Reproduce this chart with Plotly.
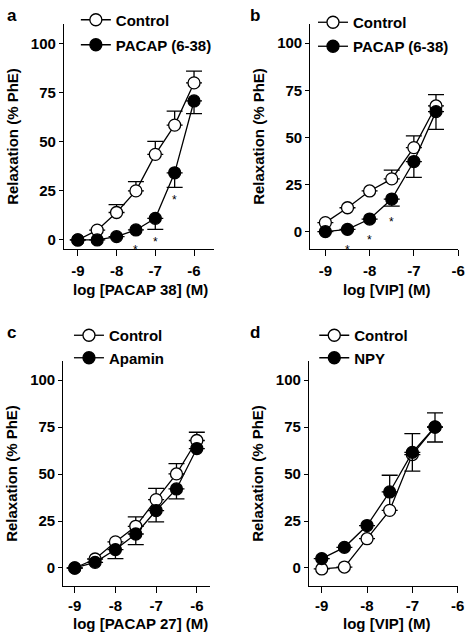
import plotly.graph_objects as go

# ---------------- data ----------------
conc_a = [-9, -8.5, -8, -7.5, -7, -6.5, -6]
ctrl_a = [0, 5, 14, 25, 43.6, 58.5, 80]
ctrl_a_err = [0, 0, 4, 4.7, 6.6, 7.1, 6]
pacap_a = [0, 0, 1.7, 5.1, 11, 34.2, 70.8]
pacap_a_err = [0, 0, 0, 0, 5.6, 7.4, 6.4]
star_a_x = [-7.5, -7, -6.5]
star_a_y = [-3.7, 0.3, 22]

conc_b = [-9, -8.5, -8, -7.5, -7, -6.5]
ctrl_b = [4.8, 12.7, 21.6, 28, 44.6, 66.7]
ctrl_b_err = [0, 0, 0, 4.7, 6.2, 6]
pacap_b = [0, 1.2, 6.7, 17.3, 37.2, 63.7]
pacap_b_err = [0, 0, 0, 3.7, 8.4, 9.4]
star_b_x = [-8.5, -8, -7.5]
star_b_y = [-8, -3, 6.7]

conc_c = [-9, -8.5, -8, -7.5, -7, -6.5, -6]
ctrl_c = [0, 4.8, 13.9, 22.2, 36.4, 50.1, 67.9]
ctrl_c_err = [0, 0, 0, 5, 6, 5.5, 4.4]
apamin_c = [0, 3, 9.8, 18.1, 30.6, 42.1, 63.6]
apamin_c_err = [0, 0, 4.8, 5.7, 6, 5.3, 0]

conc_d = [-9, -8.5, -8, -7.5, -7, -6.5]
ctrl_d = [-0.5, 0.5, 15.6, 30.7, 60.4, 75]
ctrl_d_err = [0, 0, 0, 18.7, 11.2, 7.6]
npy_d = [5, 11, 22.6, 40.5, 61.6, 75.1]
npy_d_err = [0, 0, 0, 0, 10, 8]

y_ticks = [0, 25, 50, 75, 100]
x_ticks = [-9, -8, -7, -6]

panel_labels = ["a", "b", "c", "d"]
x_titles = ["log [PACAP 38] (M)", "log [VIP] (M)", "log [PACAP 27] (M)", "log [VIP] (M)"]
y_title = "Relaxation (% PhE)"

# ---------------- styling ----------------
W, H = 472, 636
FONT = "Liberation Sans, Arial, Helvetica, sans-serif"
LW = 1.3
MS = 12

def px_x(p):
    return p / W

def px_y(p):
    return 1 - p / H

panels = [
    dict(xs="x", ys="y", dx=[65, 217], dy=[24, 249], xr=[-9.356, -5.49], yr=[-4.6, 110],
         data=(conc_a, ctrl_a, ctrl_a_err, pacap_a, pacap_a_err), names=("Control", "PACAP (6-38)"),
         leg=(77, 3.5), gap=2.5, stars=(star_a_x, star_a_y), xt=(143, 289), tls=2),
    dict(xs="x2", ys="y2", dx=[315, 465], dy=[24, 249], xr=[-9.34, -6.0], yr=[-9.2, 110.2],
         data=(conc_b, ctrl_b, ctrl_b_err, pacap_b, pacap_b_err), names=("Control", "PACAP (6-38)"),
         leg=(317.7, 6.0), gap=1.5, stars=(star_b_x, star_b_y), xt=(392, 289.5), tls=2),
    dict(xs="x3", ys="y3", dx=[64.3, 213], dy=[360.7, 586.3], xr=[-9.28, -5.68], yr=[-9.75, 110.4],
         data=(conc_c, ctrl_c, ctrl_c_err, apamin_c, apamin_c_err), names=("Control", "Apamin"),
         leg=(70, 319), gap=0, stars=None, xt=(143, 623), tls=0),
    dict(xs="x4", ys="y4", dx=[313.7, 465], dy=[360.7, 586.3], xr=[-9.28, -5.99], yr=[-9.75, 110.4],
         data=(conc_d, ctrl_d, ctrl_d_err, npy_d, npy_d_err), names=("Control", "NPY"),
         leg=(319, 319), gap=0, stars=None, xt=(392, 623), tls=0),
]

fig = go.Figure()
layout = dict(
    width=W, height=H,
    margin=dict(l=0, r=0, t=0, b=0),
    paper_bgcolor="white", plot_bgcolor="white",
    font=dict(family=FONT, size=15, color="black", weight="bold"),
    showlegend=True,
)
annotations = []

for i, p in enumerate(panels):
    conc, c_y, c_e, t_y, t_e = p["data"]
    legname = "legend" if i == 0 else f"legend{i+1}"
    zeros_c = [0] * len(conc)
    fig.add_trace(go.Scatter(
        x=conc, y=c_y, xaxis=p["xs"], yaxis=p["ys"], name=p["names"][0],
        mode="lines+markers", legend=legname, legendgroup=f"g{i}c",
        line=dict(color="black", width=LW),
        marker=dict(symbol="circle", size=MS, color="white", line=dict(color="black", width=LW)),
        error_y=dict(type="data", symmetric=False, array=c_e, arrayminus=zeros_c,
                     color="black", thickness=LW, width=8),
        cliponaxis=False,
    ))
    fig.add_trace(go.Scatter(
        x=conc, y=t_y, xaxis=p["xs"], yaxis=p["ys"], name=p["names"][1],
        mode="lines+markers", legend=legname, legendgroup=f"g{i}t",
        line=dict(color="black", width=LW),
        marker=dict(symbol="circle", size=MS, color="black", line=dict(color="black", width=LW)),
        error_y=dict(type="data", symmetric=False, array=zeros_c, arrayminus=t_e,
                     color="black", thickness=LW, width=8),
        cliponaxis=False,
    ))
    xa = "xaxis" if i == 0 else f"xaxis{i+1}"
    ya = "yaxis" if i == 0 else f"yaxis{i+1}"
    layout[xa] = dict(
        domain=[px_x(p["dx"][0]), px_x(p["dx"][1])], range=p["xr"], anchor=p["ys"],
        showline=True, linecolor="black", linewidth=LW, showgrid=False, zeroline=False,
        ticks="outside", ticklen=6, tickwidth=LW, tickcolor="black",
        tickvals=x_ticks, ticktext=[str(v) for v in x_ticks],
        tickfont=dict(family=FONT, size=15, weight="bold"),
        ticklabelstandoff=p["tls"],
        fixedrange=True,
    )
    layout[ya] = dict(
        domain=[px_y(p["dy"][1]), px_y(p["dy"][0])], range=p["yr"], anchor=p["xs"],
        showline=True, linecolor="black", linewidth=LW, showgrid=False, zeroline=False,
        ticks="outside", ticklen=4, tickwidth=LW, tickcolor="black",
        tickvals=y_ticks, ticktext=[str(v) for v in y_ticks],
        tickfont=dict(family=FONT, size=15, weight="bold"),
        title=dict(text=y_title, font=dict(family=FONT, size=15, weight="bold"), standoff=8),
        fixedrange=True,
    )
    lx, ly = p["leg"]
    layout[legname] = dict(
        x=px_x(lx), y=px_y(ly), xanchor="left", yanchor="top",
        bgcolor="rgba(0,0,0,0)", borderwidth=0,
        font=dict(family=FONT, size=15, color="black", weight="bold"),
        tracegroupgap=p["gap"], traceorder="grouped",
        itemclick=False, itemdoubleclick=False,
    )
    tx, ty = p["xt"]
    annotations.append(dict(
        x=px_x(tx), y=px_y(ty), xref="paper", yref="paper", text=x_titles[i], showarrow=False,
        xanchor="center", yanchor="middle",
        font=dict(family=FONT, size=15, color="black", weight="bold"),
    ))
    if p["stars"] is not None:
        sx, sy = p["stars"]
        for xv, yv in zip(sx, sy):
            annotations.append(dict(
                x=xv, y=yv, xref=p["xs"], yref=p["ys"], text="*", showarrow=False,
                font=dict(family=FONT, size=12, color="black", weight="normal"),
                yshift=-3,
            ))

label_pos = [(12, 16), (259, 15), (11.5, 332), (259, 332)]
for lab, (lx, ly) in zip(panel_labels, label_pos):
    annotations.append(dict(
        x=px_x(lx), y=px_y(ly), xref="paper", yref="paper", text=lab, showarrow=False,
        xanchor="center", yanchor="middle",
        font=dict(family=FONT, size=17, color="black", weight="bold"),
    ))

layout["annotations"] = annotations
fig.update_layout(**layout)
fig.write_html(
    "out.html",
    config={"displayModeBar": False, "staticPlot": False},
    post_script="document.body.style.margin='0';document.body.style.overflow='hidden';",
)
